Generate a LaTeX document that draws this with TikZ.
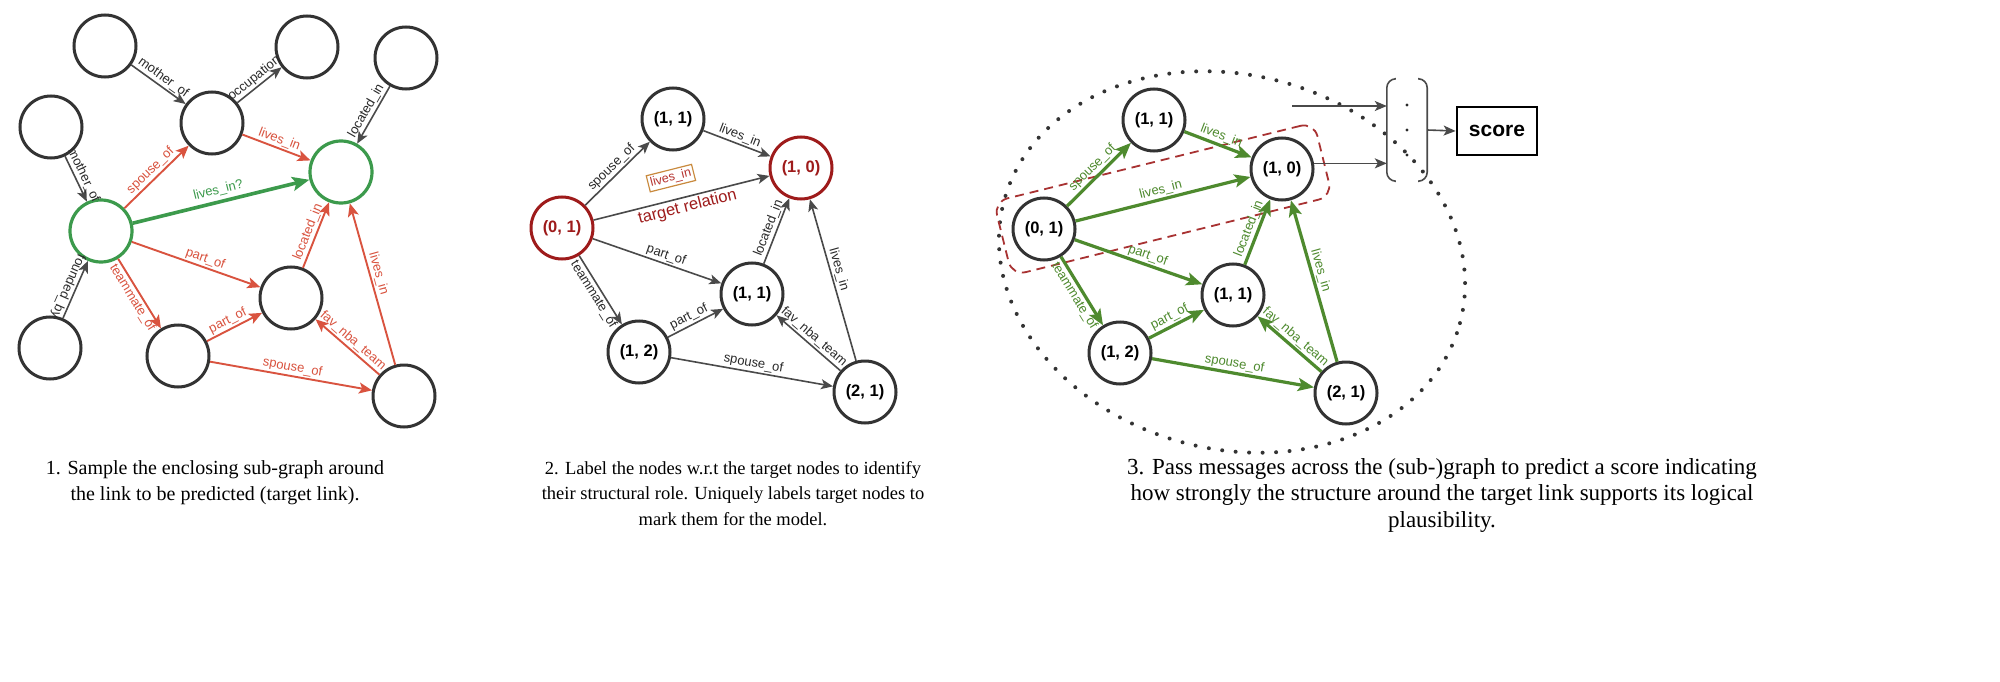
\documentclass[tikz,border=0pt]{standalone}
\usepackage{fontspec}
\setmainfont{Liberation Serif}
\setsansfont{Liberation Sans}
\usetikzlibrary{arrows.meta,calc}
\definecolor{nodegray}{HTML}{333333}
\definecolor{edgegray}{HTML}{4A4A4A}
\definecolor{labelgray}{HTML}{2A2A2A}
\definecolor{redE}{HTML}{D9533F}
\definecolor{greenA}{HTML}{3C9A4C}
\definecolor{darkred}{HTML}{9E1B1B}
\definecolor{boxorange}{HTML}{C98A3E}
\definecolor{boxtext}{HTML}{B5322E}
\definecolor{greenB}{HTML}{4E8A2E}
\definecolor{dashred}{HTML}{A83232}
\tikzset{
  gnode/.style={circle, draw=nodegray, line width=3pt, fill=white, minimum size=62pt, inner sep=0pt, text=black, font=\sffamily\bfseries\fontsize{16.5}{18}\selectfont},
  tnode/.style={gnode, draw=darkred, text=darkred},
  gtnode/.style={gnode, draw=greenA, line width=3.2pt},
  elbl/.style={font=\sffamily\fontsize{13}{15}\selectfont, sloped, inner sep=1.5pt},
  blkedge/.style={draw=edgegray, line width=1.6pt, -{Stealth[length=12pt,width=10pt,inset=3pt]}},
  rededge/.style={draw=redE, line width=1.9pt, -{Stealth[length=13pt,width=11pt,inset=3pt]}},
  grnedge/.style={draw=greenA, line width=3.6pt, -{Stealth[length=17pt,width=14pt,inset=3.5pt]}},
  pthreeedge/.style={draw=greenB, line width=3.2pt, -{Stealth[length=16pt,width=13pt,inset=3.5pt]}},
  blbl/.style={elbl, text=labelgray},
  rlbl/.style={elbl, text=redE},
  glbl/.style={elbl, text=greenA},
  gthreelbl/.style={elbl, text=greenB},
  captiontext/.style={font=\fontsize{20}{26}\selectfont, align=center, anchor=north, inner sep=0pt},
  dotring/.style={draw=nodegray, line width=4pt, line cap=round, dash pattern=on 0pt off 13.5pt},
  vecline/.style={draw=edgegray, line width=1.6pt},
}
\begin{document}
\begin{tikzpicture}[x=1pt,y=-1pt]
\useasboundingbox (0,0) rectangle (2000,682);
\fill[white] (0,0) rectangle (2000,682);

% ---------------- Panel 1 ----------------
\node[gnode] (A) at (105,46) {};
\node[gnode] (B) at (307,47) {};
\node[gnode] (C) at (212,123) {};
\node[gnode] (D) at (51,127) {};
\node[gnode] (L) at (406,58) {};
\node[gtnode] (E) at (101,231) {};
\node[gtnode] (T) at (341,172) {};
\node[gnode] (G) at (291,298) {};
\node[gnode] (F) at (50,348) {};
\node[gnode] (H) at (178,356) {};
\node[gnode] (I) at (404,396) {};

\draw[blkedge] (A) -- node[blbl, above] {mother\_of} (C);
\draw[blkedge] (C) -- node[blbl, above] {occupation} (B);
\draw[blkedge] (D) -- node[blbl, above] {mother\_of} (E);
\draw[blkedge] (F) -- node[blbl, rotate=180, below] {founded\_by} (E);
\draw[blkedge] (L) -- node[blbl, above] {located\_in} (T);
\draw[rededge] (E) -- node[rlbl, above] {spouse\_of} (C);
\draw[rededge] (C) -- node[rlbl, above] {lives\_in} (T);
\draw[grnedge] (E) -- node[glbl, above=2pt] {lives\_in?} (T);
\draw[rededge] (E) -- node[rlbl, above, pos=0.55] {part\_of} (G);
\draw[rededge] (E) -- node[rlbl, below] {teammate\_of} (H);
\draw[rededge] (H) -- node[rlbl, above, pos=0.45] {part\_of} (G);
\draw[rededge] (G) -- node[rlbl, above] {located\_in} (T);
\draw[rededge] (I) -- node[rlbl, above, pos=0.55] {lives\_in} (T);
\draw[rededge] (I) -- node[rlbl, above] {fav\_nba\_team} (G);
\draw[rededge] (H) -- node[rlbl, above] {spouse\_of} (I);

% ---------------- Panel 2 ----------------
\node[tnode] (pa) at (562,228) {(0, 1)};
\node[gnode] (pb) at (673,119) {(1, 1)};
\node[tnode] (pc) at (801,168) {(1, 0)};
\node[gnode] (pd) at (752,294) {(1, 1)};
\node[gnode] (pe) at (639,352) {(1, 2)};
\node[gnode] (pf) at (865,392) {(2, 1)};

\draw[blkedge] (pa) -- node[blbl, above] {spouse\_of} (pb);
\draw[blkedge] (pb) -- node[blbl, above] {lives\_in} (pc);
\draw[blkedge] (pa) -- node[sloped, pos=0.47, above=13pt, draw=boxorange, line width=1.2pt, inner sep=2.5pt, text=boxtext, font=\sffamily\fontsize{12.5}{14}\selectfont] {lives\_in}
                      node[sloped, pos=0.52, below=1pt, text=darkred, inner sep=1pt, font=\sffamily\fontsize{16.5}{18}\selectfont] {target relation} (pc);
\draw[blkedge] (pa) -- node[blbl, above, pos=0.55] {part\_of} (pd);
\draw[blkedge] (pa) -- node[blbl, below] {teammate\_of} (pe);
\draw[blkedge] (pe) -- node[blbl, above, pos=0.45] {part\_of} (pd);
\draw[blkedge] (pd) -- node[blbl, above] {located\_in} (pc);
\draw[blkedge] (pf) -- node[blbl, above, pos=0.55] {lives\_in} (pc);
\draw[blkedge] (pf) -- node[blbl, above] {fav\_nba\_team} (pd);
\draw[blkedge] (pe) -- node[blbl, above] {spouse\_of} (pf);

% ---------------- Panel 3 ----------------
\draw[dotring, rotate around={-15:(1232,262)}] (1232,262) ellipse [x radius=236pt, y radius=187pt];

\node[gnode] (qa) at (1044,229) {(0, 1)};
\node[gnode] (qb) at (1154,120) {(1, 1)};
\node[gnode] (qc) at (1282,169) {(1, 0)};
\node[gnode] (qd) at (1233,295) {(1, 1)};
\node[gnode] (qe) at (1120,353) {(1, 2)};
\node[gnode] (qf) at (1346,393) {(2, 1)};

\node[draw=dashred, line width=1.8pt, dash pattern=on 9pt off 6pt, rounded corners=14pt,
      minimum width=330pt, minimum height=76pt, rotate=13.9] (tbox) at ($(qa)!0.5!(qc)$) {};

\draw[pthreeedge] (qa) -- node[gthreelbl, above] {spouse\_of} (qb);
\draw[pthreeedge] (qb) -- node[gthreelbl, above] {lives\_in} (qc);
\draw[pthreeedge] (qa) -- node[gthreelbl, above] {lives\_in} (qc);
\draw[pthreeedge] (qa) -- node[gthreelbl, above, pos=0.55] {part\_of} (qd);
\draw[pthreeedge] (qa) -- node[gthreelbl, below] {teammate\_of} (qe);
\draw[pthreeedge] (qe) -- node[gthreelbl, above, pos=0.45] {part\_of} (qd);
\draw[pthreeedge] (qd) -- node[gthreelbl, above] {located\_in} (qc);
\draw[pthreeedge] (qf) -- node[gthreelbl, above, pos=0.55] {lives\_in} (qc);
\draw[pthreeedge] (qf) -- node[gthreelbl, above] {fav\_nba\_team} (qd);
\draw[pthreeedge] (qe) -- node[gthreelbl, above] {spouse\_of} (qf);

% vector + score
\node[minimum width=40pt, minimum height=102pt, inner sep=0pt] (vec) at (1407,130) {};
\draw[vecline, rounded corners=9pt] ([xshift=8pt]vec.north west) -- (vec.north west) -- (vec.south west) -- ([xshift=8pt]vec.south west);
\draw[vecline, rounded corners=9pt] ([xshift=-8pt]vec.north east) -- (vec.north east) -- (vec.south east) -- ([xshift=-8pt]vec.south east);
\fill[labelgray] (1407,105) circle (1.7pt) (1407,130) circle (1.7pt) (1407,155) circle (1.7pt);
\node[draw=black, line width=2.8pt, minimum width=80pt, minimum height=48pt, font=\sffamily\bfseries\fontsize{21}{24}\selectfont] (score) at (1497,131) {score};
\coordinate (hin) at (1292,106);
\draw[blkedge] (hin) -- (hin -| vec.west);
\draw[blkedge] (qc.10) -- (qc.10 -| vec.west);
\draw[blkedge] (vec.east) -- (score.west);

% ---------------- Captions ----------------
\node[captiontext] (capa) at (215,460) {1. Sample the enclosing sub-graph around\\the link to be predicted (target link).};
\node[captiontext, font=\fontsize{18.5}{25.5}\selectfont] (capb) at (733,461) {2. Label the nodes w.r.t the target nodes to identify\\their structural role. Uniquely labels target nodes to\\mark them for the model.};
\node[captiontext, font=\fontsize{23}{26.5}\selectfont] (capc) at (1442,458) {3. Pass messages across the (sub-)graph to predict a score indicating\\how strongly the structure around the target link supports its logical\\plausibility.};
\end{tikzpicture}
\end{document}
